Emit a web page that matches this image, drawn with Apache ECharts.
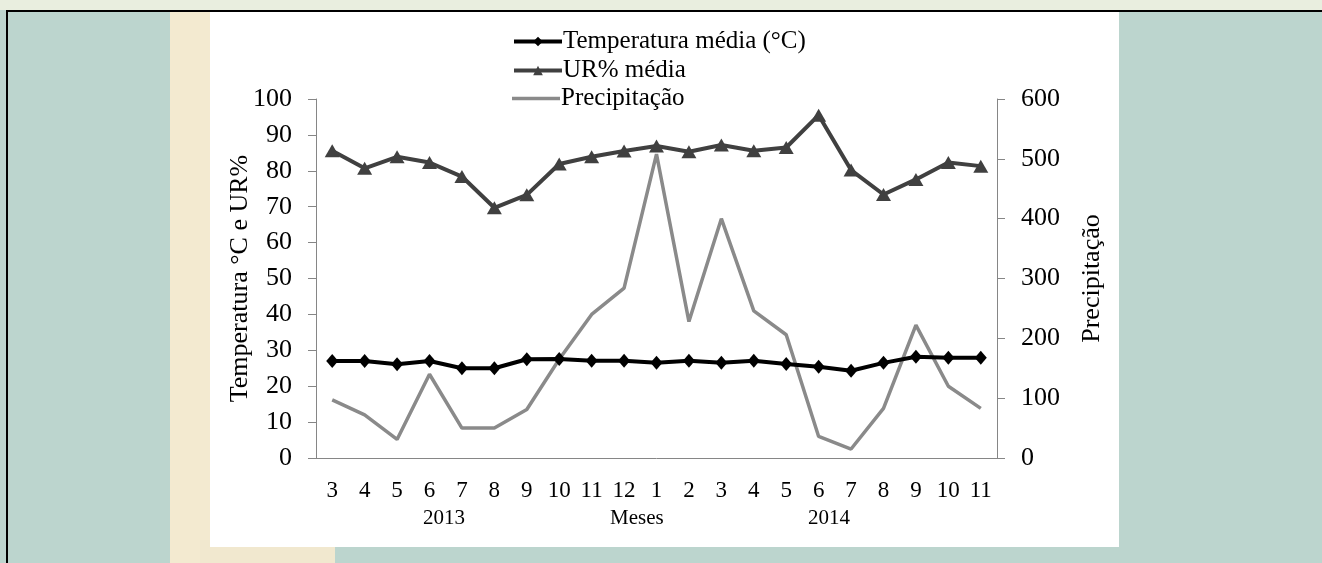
<!DOCTYPE html>
<html>
<head>
<meta charset="utf-8">
<script src="https://cdn.jsdelivr.net/npm/echarts@6/dist/echarts.min.js"></script>
<style>
  html, body { margin: 0; padding: 0; width: 1322px; height: 563px; overflow: hidden; }
  body { background: #bcd5ce; position: relative; }
  .beige { position: absolute; left: 170px; top: 0; width: 50px; height: 563px; background: #f3ead0; }
  .beige2 { position: absolute; left: 200px; top: 540px; width: 135px; height: 23px; background: #f1e8cf; }
  .topband { position: absolute; left: 0; top: 0; width: 1322px; height: 10px; background: #e9eedf; }
  .frame-top { position: absolute; left: 6px; top: 10px; width: 1316px; height: 2px; background: #000; }
  .frame-left { position: absolute; left: 6px; top: 10px; width: 2px; height: 553px; background: #000; }
  .paper { position: absolute; left: 210px; top: 12px; width: 909px; height: 535px; background: #fff; }
  #chart { position: absolute; left: 0; top: 0; width: 1322px; height: 563px; }
</style>
</head>
<body>
<div class="beige"></div>
<div class="beige2"></div>
<div class="topband"></div>
<div class="paper"></div>
<div class="frame-top"></div>
<div class="frame-left"></div>
<div id="chart"></div>
<script>
// meses de mar/2013 a nov/2014
const months = ['3', '4', '5', '6', '7', '8', '9', '10', '11', '12', '1', '2', '3', '4', '5', '6', '7', '8', '9', '10', '11'];
const temperatura = [27, 27, 26.1, 27, 25, 25, 27.5, 27.6, 27.1, 27.1, 26.5, 27.1, 26.5, 27.1, 26.2, 25.4, 24.3, 26.5, 28.2, 27.9, 27.9];
const umidade = [85.6, 80.7, 83.9, 82.3, 78.4, 69.7, 73.3, 81.9, 83.9, 85.5, 86.9, 85.3, 87.2, 85.6, 86.5, 95.5, 80.2, 73.4, 77.6, 82.3, 81.3];
const precipitacao = [97, 72, 31, 140, 50, 50, 81, 165, 240, 284, 508, 228, 400, 246, 206, 36, 15, 83, 222, 120, 83];
const leftTicks = { min: 0, max: 100, interval: 10 };
const rightTicks = { min: 0, max: 600, interval: 100 };

const serif = 'Liberation Serif';
const axisGrey = '#868686';

const legendBase = {
  orient: 'vertical',
  itemWidth: 48,
  itemHeight: 12,
  itemGap: 0,
  padding: 0,
  lineStyle: { width: 4 },
  textStyle: { fontFamily: serif, fontSize: 25, color: '#000', padding: [0, 0, 0, -4] }
};

const chart = echarts.init(document.getElementById('chart'));
chart.setOption({
  backgroundColor: 'transparent',
  animation: false,
  textStyle: { fontFamily: serif, color: '#000' },
  legend: [
    Object.assign({}, legendBase, { data: ['Temperatura média (°C)'], left: 512, top: 29 }),
    Object.assign({}, legendBase, { data: ['UR% média'], left: 512, top: 58 }),
    Object.assign({}, legendBase, {
      data: [{ name: 'Precipitação', icon: 'rect' }],
      left: 512, top: 86,
      itemHeight: 3.5,
      itemStyle: { color: '#8a8a8a' }
    })
  ],
  grid: { left: 316, right: 325, top: 99, bottom: 105 },
  xAxis: {
    type: 'category',
    data: months,
    boundaryGap: true,
    axisLine: { lineStyle: { color: axisGrey, width: 1 } },
    axisTick: { length: 9, lineStyle: { color: axisGrey } },
    axisLabel: { fontFamily: serif, fontSize: 23, color: '#000', margin: 21, interval: 0 }
  },
  yAxis: [
    {
      type: 'value',
      min: leftTicks.min, max: leftTicks.max, interval: leftTicks.interval,
      name: 'Temperatura °C e UR%',
      nameLocation: 'middle',
      nameGap: 63,
      nameMoveOverlap: false,
      nameTextStyle: { fontFamily: serif, fontSize: 26, color: '#000' },
      axisLine: { show: true, lineStyle: { color: axisGrey } },
      axisTick: { show: true, length: 8, lineStyle: { color: axisGrey } },
      splitLine: { show: false },
      axisLabel: { fontFamily: serif, fontSize: 26, color: '#000', margin: 24 }
    },
    {
      type: 'value',
      min: rightTicks.min, max: rightTicks.max, interval: rightTicks.interval,
      name: 'Precipitação',
      nameLocation: 'middle',
      nameGap: 82,
      nameMoveOverlap: false,
      nameTextStyle: { fontFamily: serif, fontSize: 26, color: '#000' },
      position: 'right',
      axisLine: { show: true, lineStyle: { color: axisGrey } },
      axisTick: { show: true, length: 8, lineStyle: { color: axisGrey } },
      splitLine: { show: false },
      axisLabel: { fontFamily: serif, fontSize: 26, color: '#000', margin: 24 }
    }
  ],
  series: [
    {
      name: 'Temperatura média (°C)',
      type: 'line',
      data: temperatura,
      yAxisIndex: 0,
      symbol: 'diamond',
      symbolSize: [12, 14],
      itemStyle: { color: '#000' },
      lineStyle: { color: '#000', width: 4 },
      z: 4
    },
    {
      name: 'UR% média',
      type: 'line',
      data: umidade,
      yAxisIndex: 0,
      symbol: 'triangle',
      symbolSize: [15, 13],
      itemStyle: { color: '#404040' },
      lineStyle: { color: '#404040', width: 4 },
      z: 3
    },
    {
      name: 'Precipitação',
      type: 'line',
      data: precipitacao,
      yAxisIndex: 1,
      symbol: 'none',
      itemStyle: { color: '#8a8a8a' },
      lineStyle: { color: '#8a8a8a', width: 3.5 },
      z: 2
    }
  ],
  graphic: [
    { type: 'text', left: 447 - 24, top: 508, style: { text: '2013', font: '21px "Liberation Serif"', fill: '#000' } },
    { type: 'text', left: 640 - 30, top: 508, style: { text: 'Meses', font: '21px "Liberation Serif"', fill: '#000' } },
    { type: 'text', left: 832 - 24, top: 508, style: { text: '2014', font: '21px "Liberation Serif"', fill: '#000' } }
  ]
});
</script>
</body>
</html>
